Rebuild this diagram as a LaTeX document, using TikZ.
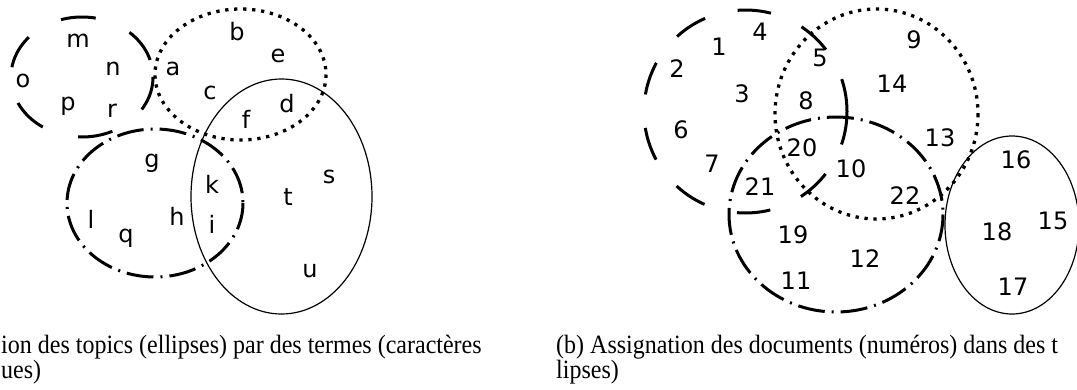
\documentclass[tikz,border=0pt]{standalone}
\usepackage{fontspec}
\setmainfont{Liberation Serif}
\newfontfamily\dejavu{DejaVu Sans}
\newcommand{\capbox}[1]{\scalebox{1}[1.1]{#1}}
\tikzset{
  lab/.style={anchor=base, inner sep=0pt, font=\dejavu\fontsize{24}{28}\selectfont},
  captext/.style={anchor=base west, inner sep=0pt, font=\fontsize{24}{25}\selectfont},
  dashedell/.style={line width=3pt},
  dottedell/.style={line width=3.3pt, dash pattern=on 3.3pt off 5.7pt},
  dashdotell/.style={line width=3pt, dash pattern=on 27pt off 7pt on 2pt off 7pt},
  solidell/.style={line width=1.2pt}
}
\begin{document}
\begin{tikzpicture}[x=1pt,y=-1pt]
\useasboundingbox (0,0) rectangle (1077,389);
\begin{scope}
\clip (0,0) rectangle (1077,389);
% ---------- left diagram ----------
\draw[dashedell, dash pattern=on 35pt off 37pt] (153,77) arc[start angle=0, end angle=-360, x radius=71pt, y radius=60pt];
\draw[dottedell] (326,74.5) arc[start angle=0, end angle=-360, x radius=85.5pt, y radius=65.5pt];
\draw[solidell] (372,196.5) arc[start angle=0, end angle=-360, x radius=90.5pt, y radius=117.5pt];
\draw[dashdotell] (243,203) arc[start angle=0, end angle=-360, x radius=88pt, y radius=74pt];
\node[lab] (m) at (78,47) {m};
\node[lab] (n) at (113,75) {n};
\node[lab] (o) at (23,87) {o};
\node[lab] (p) at (68,110) {p};
\node[lab] (r) at (112,117) {r};
\node[lab] (a) at (173,75) {a};
\node[lab] (b) at (237,40) {b};
\node[lab] (e) at (278,62) {e};
\node[lab] (c) at (210,99) {c};
\node[lab] (d) at (287,112) {d};
\node[lab] (f) at (246,128) {f};
\node[lab] (g) at (152,167) {g};
\node[lab] (k) at (212,193) {k};
\node[lab] (h) at (177,225) {h};
\node[lab] (i) at (212,233) {i};
\node[lab] (l) at (91,228) {l};
\node[lab] (q) at (126,242) {q};
\node[lab] (t) at (288,205) {t};
\node[lab] (s) at (329,183) {s};
\node[lab] (u) at (310,277) {u};
% ---------- right diagram ----------
\draw[dashedell, dash pattern=on 33.6pt off 33.6pt] (847,111.5) arc[start angle=0, end angle=-360, x radius=101.5pt, y radius=101.5pt];
\draw[dottedell] (978,114) arc[start angle=0, end angle=-360, x radius=101.5pt, y radius=105pt];
\draw[dashdotell] (943,214.5) arc[start angle=0, end angle=-360, x radius=107pt, y radius=97.5pt];
\draw[solidell] (1079,225) arc[start angle=0, end angle=-360, x radius=67pt, y radius=89pt];
\node[lab] (n4) at (760,40) {4};
\node[lab] (n1) at (719,55) {1};
\node[lab] (n9) at (914,48) {9};
\node[lab] (n5) at (820,66) {5};
\node[lab] (n2) at (677,77) {2};
\node[lab] (n14) at (892,92) {14};
\node[lab] (n3) at (742,102) {3};
\node[lab] (n8) at (806,109) {8};
\node[lab] (n6) at (681,138) {6};
\node[lab] (n13) at (940,146) {13};
\node[lab] (n20) at (802,156) {20};
\node[lab] (n7) at (712,172) {7};
\node[lab] (n10) at (851,177) {10};
\node[lab] (n16) at (1016,168) {16};
\node[lab] (n21) at (760,195) {21};
\node[lab] (n22) at (905,204) {22};
\node[lab] (n15) at (1053,229) {15};
\node[lab] (n18) at (997,240) {18};
\node[lab] (n19) at (793,243) {19};
\node[lab] (n12) at (865,267) {12};
\node[lab] (n11) at (796,289) {11};
\node[lab] (n17) at (1013,295) {17};
% ---------- captions ----------
\node[captext] (capa1) at (1,353) {\capbox{ion des topics (ellipses) par des termes (caractères}};
\node[captext] (capa2) at (1,378) {\capbox{ues)}};
\node[captext] (capb1) at (556,353) {\capbox{(b) Assignation des documents (numéros) dans des t}};
\node[captext] (capb2) at (556,378) {\capbox{lipses)}};
\end{scope}
\end{tikzpicture}
\end{document}
